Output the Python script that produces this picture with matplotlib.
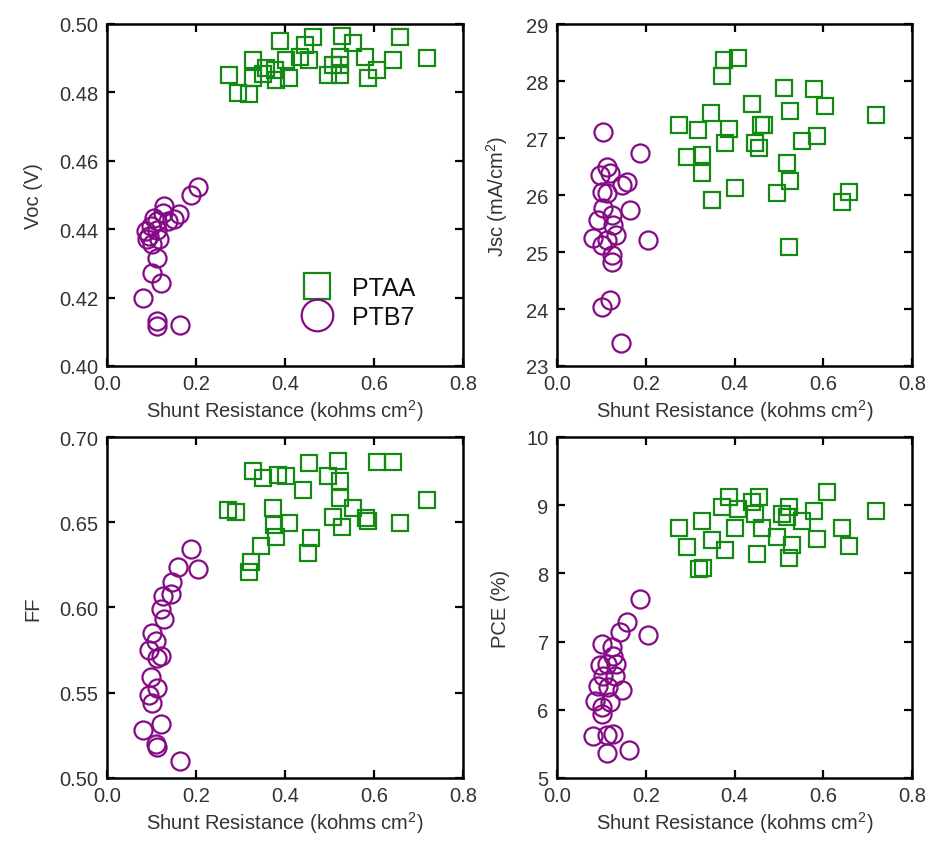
import matplotlib
matplotlib.use("Agg")
import matplotlib.pyplot as plt
from matplotlib.ticker import MultipleLocator, FormatStrFormatter

plt.rcParams['font.family'] = ['Liberation Sans', 'DejaVu Sans']
plt.rcParams['mathtext.fontset'] = 'custom'
plt.rcParams['mathtext.rm'] = 'Liberation Sans'
plt.rcParams['mathtext.it'] = 'Liberation Sans:italic'

# ---------------- data ----------------
# Voc panel
ptaa_voc_x = [0.275, 0.294, 0.320, 0.328, 0.328, 0.350, 0.358, 0.380, 0.377, 0.388,
              0.403, 0.410, 0.433, 0.444, 0.455, 0.463, 0.497, 0.508, 0.523, 0.523,
              0.527, 0.553, 0.579, 0.587, 0.606, 0.643, 0.658, 0.719, 0.523]
ptaa_voc = [0.4850, 0.4797, 0.4794, 0.4894, 0.4841, 0.4855, 0.4870, 0.4836, 0.4865, 0.4949,
            0.4894, 0.4843, 0.4904, 0.4938, 0.4894, 0.4962, 0.4850, 0.4879, 0.4850, 0.4904,
            0.4965, 0.4943, 0.4904, 0.4841, 0.4865, 0.4894, 0.4962, 0.4901, 0.4879]
ptb7_voc_x = [0.204, 0.189, 0.129, 0.162, 0.151, 0.106, 0.125, 0.113, 0.099, 0.113,
              0.095, 0.117, 0.102, 0.113, 0.101, 0.121, 0.080, 0.113, 0.113, 0.165,
              0.136, 0.091, 0.087]
ptb7_voc = [0.4523, 0.4501, 0.4467, 0.4443, 0.4431, 0.4433, 0.4448, 0.4424, 0.4409, 0.4399,
            0.4380, 0.4370, 0.4356, 0.4317, 0.4273, 0.4244, 0.4200, 0.4132, 0.4117, 0.4119,
            0.4424, 0.4370, 0.4394]

# Jsc panel
ptaa_jsc_x = [0.376, 0.409, 0.372, 0.511, 0.579, 0.440, 0.526, 0.605, 0.718, 0.346,
              0.274, 0.318, 0.387, 0.459, 0.466, 0.379, 0.447, 0.455, 0.553, 0.586,
              0.293, 0.327, 0.327, 0.519, 0.526, 0.402, 0.349, 0.496, 0.658, 0.643,
              0.522]
ptaa_jsc = [28.37, 28.41, 28.08, 27.88, 27.86, 27.59, 27.47, 27.56, 27.40, 27.43,
            27.22, 27.14, 27.15, 27.23, 27.22, 26.92, 26.92, 26.82, 26.95, 27.04,
            26.66, 26.70, 26.38, 26.56, 26.25, 26.13, 25.92, 26.04, 26.06, 25.88,
            25.08]
ptb7_jsc_x = [0.104, 0.187, 0.112, 0.097, 0.120, 0.157, 0.146, 0.101, 0.112, 0.104,
              0.123, 0.165, 0.093, 0.127, 0.134, 0.082, 0.101, 0.112, 0.123, 0.125,
              0.206, 0.120, 0.101, 0.144]
ptb7_jsc = [27.11, 26.73, 26.50, 26.35, 26.38, 26.22, 26.18, 26.06, 26.03, 25.77,
            25.65, 25.74, 25.56, 25.47, 25.30, 25.24, 25.12, 25.21, 24.95, 24.83,
            25.21, 24.16, 24.04, 23.40]

# FF panel
ptaa_ff_x = [0.455, 0.519, 0.606, 0.643, 0.328, 0.350, 0.384, 0.403, 0.497, 0.523,
             0.440, 0.523, 0.553, 0.719, 0.271, 0.290, 0.373, 0.376, 0.410, 0.508,
             0.527, 0.583, 0.587, 0.658, 0.380, 0.459, 0.347, 0.452, 0.324, 0.320]
ptaa_ff = [0.6849, 0.6859, 0.6853, 0.6853, 0.6800, 0.6760, 0.6780, 0.6774, 0.6770, 0.6741,
           0.6691, 0.6642, 0.6582, 0.6632, 0.6572, 0.6563, 0.6582, 0.6483, 0.6498, 0.6533,
           0.6474, 0.6523, 0.6507, 0.6493, 0.6415, 0.6409, 0.6361, 0.6322, 0.6267, 0.6211]
ptb7_ff_x = [0.189, 0.204, 0.159, 0.147, 0.125, 0.144, 0.121, 0.129, 0.102, 0.110,
             0.095, 0.113, 0.121, 0.099, 0.113, 0.095, 0.102, 0.121, 0.080, 0.110,
             0.113, 0.165]
ptb7_ff = [0.6345, 0.6227, 0.6237, 0.6148, 0.6069, 0.6079, 0.5990, 0.5931, 0.5852, 0.5802,
           0.5753, 0.5704, 0.5713, 0.5595, 0.5526, 0.5486, 0.5437, 0.5319, 0.5279, 0.5200,
           0.5180, 0.5101]

# PCE panel
ptaa_pce_x = [0.387, 0.455, 0.609, 0.372, 0.440, 0.447, 0.507, 0.522, 0.519, 0.553,
              0.579, 0.718, 0.327, 0.274, 0.402, 0.462, 0.496, 0.409, 0.643, 0.349,
              0.586, 0.293, 0.379, 0.530, 0.658, 0.451, 0.522, 0.319, 0.330]
ptaa_pce = [9.12, 9.12, 9.19, 8.97, 9.04, 8.87, 8.87, 8.97, 8.82, 8.77,
            8.92, 8.92, 8.77, 8.67, 8.67, 8.67, 8.54, 8.94, 8.67, 8.49,
            8.51, 8.39, 8.35, 8.42, 8.40, 8.29, 8.22, 8.07, 8.08]
ptb7_pce_x = [0.187, 0.157, 0.142, 0.206, 0.101, 0.123, 0.127, 0.134, 0.097, 0.112,
              0.104, 0.131, 0.093, 0.116, 0.146, 0.086, 0.120, 0.101, 0.101, 0.082,
              0.112, 0.127, 0.112, 0.163]
ptb7_pce = [7.63, 7.29, 7.14, 7.10, 6.97, 6.92, 6.79, 6.67, 6.65, 6.67,
            6.50, 6.50, 6.35, 6.33, 6.29, 6.13, 6.12, 6.04, 5.94, 5.62,
            5.63, 5.65, 5.36, 5.41]

series_labels = ["PTAA", "PTB7"]
x_label = "Shunt Resistance (kohms cm$^\\mathrm{2}$)"
y_labels = ["Voc (V)", "Jsc (mA/cm$^\\mathrm{2}$)", "FF", "PCE (%)"]
x_lim = (0.0, 0.8)
y_lims = [(0.40, 0.50), (23, 29), (0.50, 0.70), (5, 10)]
y_steps = [0.02, 1, 0.05, 1]
y_fmts = ["%.2f", "%d", "%.2f", "%d"]

# ---------------- styling ----------------
GREEN = "#138a13"
PURPLE = "#850a85"
TXT = "#333333"

W, H = 931, 845
fig = plt.figure(figsize=(W / 100, H / 100), dpi=100)

boxes = [(107, 25, 463, 367), (557, 25, 912, 367),
         (107, 438, 463, 779), (557, 438, 912, 779)]

panels = [
    (ptaa_voc_x, ptaa_voc, ptb7_voc_x, ptb7_voc),
    (ptaa_jsc_x, ptaa_jsc, ptb7_jsc_x, ptb7_jsc),
    (ptaa_ff_x, ptaa_ff, ptb7_ff_x, ptb7_ff),
    (ptaa_pce_x, ptaa_pce, ptb7_pce_x, ptb7_pce),
]

axes = []
for i, ((l, t, r, b), (ax_x, ay, bx, by)) in enumerate(zip(boxes, panels)):
    ax = fig.add_axes([l / W, 1 - b / H, (r - l) / W, (b - t) / H])
    ax.plot(bx, by, linestyle='none', marker='o', markersize=13,
            markerfacecolor='none', markeredgecolor=PURPLE, markeredgewidth=1.6,
            label=series_labels[1], zorder=3)
    ax.plot(ax_x, ay, linestyle='none', marker='s', markersize=11,
            markerfacecolor='none', markeredgecolor=GREEN, markeredgewidth=1.6,
            label=series_labels[0], zorder=4)
    ax.set_xlim(*x_lim)
    ax.set_ylim(*y_lims[i])
    ax.xaxis.set_major_locator(MultipleLocator(0.2))
    ax.xaxis.set_major_formatter(FormatStrFormatter("%.1f"))
    ax.yaxis.set_major_locator(MultipleLocator(y_steps[i]))
    ax.yaxis.set_major_formatter(FormatStrFormatter(y_fmts[i]))
    ax.tick_params(direction='in', length=6, width=1.6, top=True, right=True,
                   labelsize=14.5, labelcolor=TXT, pad=6)
    for sp in ax.spines.values():
        sp.set_linewidth(1.8)
    ax.set_xlabel(x_label, fontsize=14.5, color=TXT, labelpad=3)
    ax.set_ylabel(y_labels[i], fontsize=14.5, color=TXT, labelpad=12)
    axes.append(ax)

h, lab = axes[0].get_legend_handles_labels()
order = [lab.index("PTAA"), lab.index("PTB7")]
leg = axes[0].legend([h[k] for k in order], [lab[k] for k in order],
                     loc='center', bbox_to_anchor=(0.71, 0.185), frameon=False,
                     fontsize=18, markerscale=1.75, handlelength=1.0,
                     handletextpad=0.9, labelspacing=0.2)
for t in leg.get_texts():
    t.set_color("#111111")

fig.savefig("out.png", dpi=100)
